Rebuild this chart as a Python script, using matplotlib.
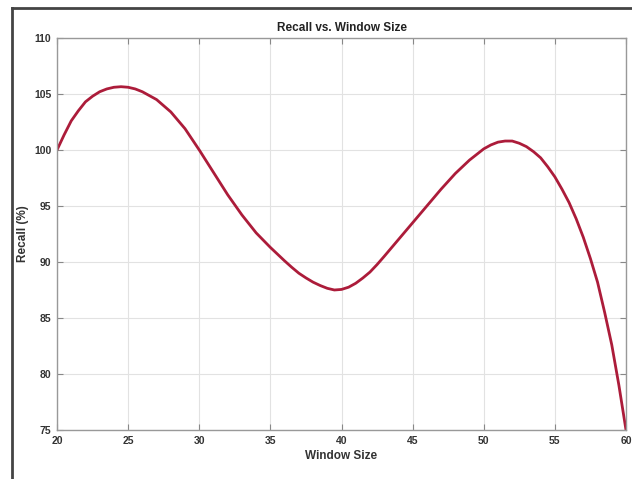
import matplotlib
matplotlib.use("Agg")
import matplotlib.pyplot as plt
from matplotlib.lines import Line2D

window_size = [20, 20.5, 21, 21.5, 22, 22.5, 23, 23.5, 24, 24.5, 25, 25.5, 26, 27, 28, 29, 30,
               31, 32, 33, 34, 35, 36, 36.5, 37, 37.5, 38, 38.5, 39, 39.5, 40, 40.5,
               41, 41.5, 42, 42.5, 43, 44, 45, 46, 47, 48, 49, 50, 50.5,
               51, 51.5, 52, 52.5, 53, 53.5, 54, 54.5, 55, 55.5, 56, 56.5, 57, 57.5,
               58, 58.5, 59, 59.5, 60]
recall = [100.0, 101.35, 102.6, 103.5, 104.3, 104.8, 105.2, 105.45, 105.6, 105.65, 105.6, 105.45, 105.2,
          104.5, 103.4, 101.9, 100.0,
          98.0, 96.0, 94.2, 92.6, 91.3, 90.1, 89.53, 89.0, 88.58, 88.2, 87.9, 87.65, 87.5, 87.55, 87.75,
          88.1, 88.57, 89.1, 89.77, 90.5, 92.0, 93.5, 95.0, 96.5, 97.9, 99.1, 100.1, 100.45,
          100.7, 100.8, 100.8, 100.6, 100.3, 99.85, 99.3, 98.5, 97.6, 96.5, 95.3, 93.85, 92.2, 90.3,
          88.2, 85.5, 82.6, 79.0, 75.0]
x_ticks = [20, 25, 30, 35, 40, 45, 50, 55, 60]
y_ticks = [75, 80, 85, 90, 95, 100, 105, 110]

plt.rcParams['font.family'] = ['Liberation Sans', 'DejaVu Sans']

fig = plt.figure(figsize=(6.32, 4.79), dpi=100)
ax = fig.add_axes([0.0902, 0.1023, 0.9003, 0.8184])

ax.plot(window_size, recall, color='#AC1C3A', linewidth=2.0,
        solid_capstyle='round', solid_joinstyle='round')

ax.set_xlim(20, 60)
ax.set_ylim(75, 110)
ax.set_xticks(x_ticks)
ax.set_yticks(y_ticks)
ax.set_xticklabels([str(v) for v in x_ticks], fontsize=7.5, fontweight='bold', color='#333333')
ax.set_yticklabels([str(v) for v in y_ticks], fontsize=7.5, fontweight='bold', color='#333333')
ax.tick_params(direction='in', top=True, right=True, length=4, width=0.8, color='#888888', pad=4)
ax.grid(True, color='#e2e2e2', linewidth=0.8)
for s in ax.spines.values():
    s.set_color('#999999')
    s.set_linewidth(1.0)

ax.set_title('Recall vs. Window Size', fontsize=8.5, fontweight='bold', color='#222222', pad=5)
ax.set_xlabel('Window Size', fontsize=8.5, fontweight='bold', color='#333333', labelpad=3)
ax.set_ylabel('Recall (%)', fontsize=8.5, fontweight='bold', color='#333333', labelpad=4)

# screenshot frame lines
fig.add_artist(Line2D([12/632, 12/632], [0, 1 - 8/479], transform=fig.transFigure,
                      color='#444444', linewidth=2))
fig.add_artist(Line2D([12/632, 1], [1 - 8/479, 1 - 8/479], transform=fig.transFigure,
                      color='#444444', linewidth=2))

fig.savefig('out.png', dpi=100)
